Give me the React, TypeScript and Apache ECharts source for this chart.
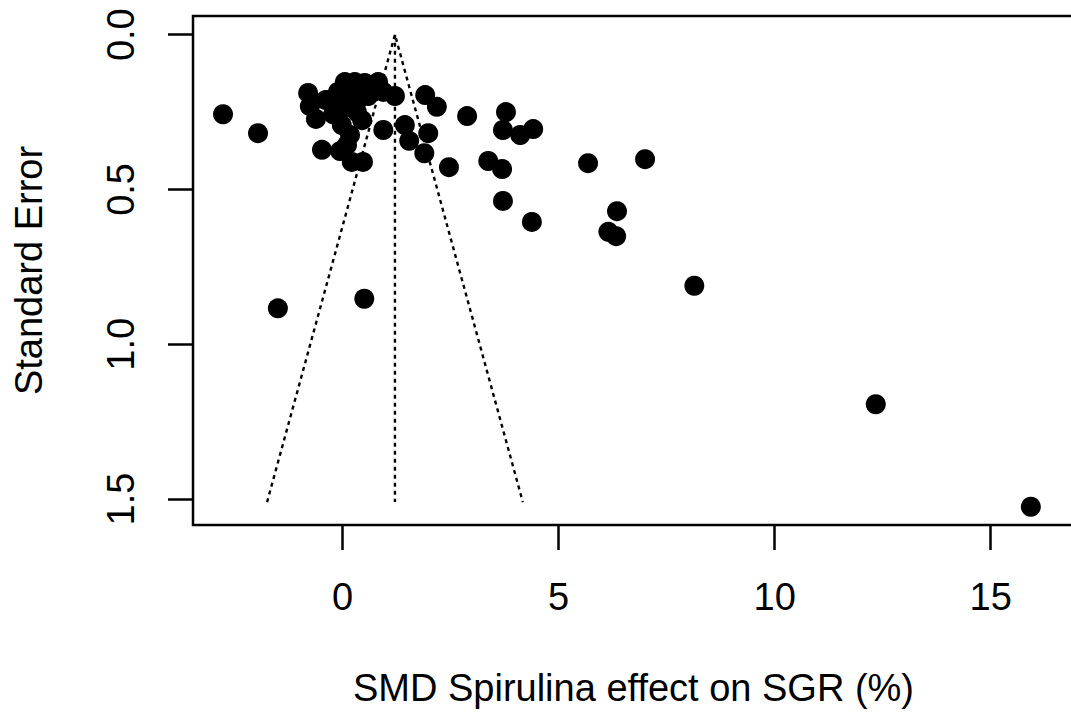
import React, { useEffect, useRef } from "react";
import * as echarts from "echarts";

// Effect sizes (SMD) and their standard errors
const effectSizes = [
  -0.8, -0.76, -0.62, -0.48, -0.39, -0.22, -0.11, -0.02, -0.06, 0.05,
  0.12, 0.17, 0.21, 0.28, 0.33, 0.45, 0.47, 0.51, 0.59, 0.7,
  0.82, 0.94, 1.21, 0.94, -0.2, 0.21, 0.01, 0.35, 0.1,
  1.44, 1.54, 1.89, 1.98, 1.91, 2.18, 2.88, 2.46, 3.37, 3.69,
  3.71, 4.38, 3.78, 3.71, 4.11, 4.41, 5.68, 7.0, 6.35, 6.15,
  6.33, 8.14, 12.34, 15.93, -2.77, -1.96, -1.5, 0.5,
];
const standardErrors = [
  0.188, 0.231, 0.272, 0.372, 0.211, 0.257, 0.185, 0.292, 0.376, 0.153,
  0.221, 0.324, 0.411, 0.153, 0.25, 0.276, 0.411, 0.156, 0.198, 0.172,
  0.153, 0.185, 0.198, 0.308, 0.205, 0.185, 0.237, 0.211, 0.356,
  0.292, 0.343, 0.383, 0.318, 0.195, 0.233, 0.263, 0.428, 0.408, 0.434,
  0.537, 0.605, 0.25, 0.308, 0.324, 0.305, 0.415, 0.402, 0.57, 0.637,
  0.651, 0.811, 1.194, 1.525, 0.257, 0.318, 0.884, 0.853,
];

// Funnel (pseudo-confidence region) and pooled estimate line
const funnelX = [-1.75, 1.21, 4.17];
const funnelY = [1.51, 0, 1.51];
const centerX = [1.21, 1.21];
const centerY = [0, 1.51];

// Tick values
const xTicks = [0, 5, 10, 15];
const yTicks = [0, 0.5, 1.0, 1.5];

const xTitle = "SMD Spirulina effect on SGR (%)";
const yTitle = "Standard Error";

const FONT = "'Liberation Sans', Arial, Helvetica, sans-serif";

export default function App() {
  const ref = useRef<HTMLDivElement>(null);

  useEffect(() => {
    if (!ref.current) return;
    const chart = echarts.init(ref.current, null, { renderer: "svg" });

    const points = effectSizes.map((x, i) => [x, standardErrors[i]]);
    const funnel = funnelX.map((x, i) => [x, funnelY[i]]);
    const center = centerX.map((x, i) => [x, centerY[i]]);

    const lineStyle = { color: "#000", width: 2.4, type: [4, 4] as number[] };
    const textStyle = { color: "#000", fontFamily: FONT, fontSize: 38 };

    chart.setOption({
      animation: false,
      backgroundColor: "#fff",
      grid: {
        left: 193,
        top: 16,
        width: 881,
        height: 509,
        show: true,
        borderColor: "#000",
        borderWidth: 2.5,
        backgroundColor: "transparent",
        outerBoundsMode: "none",
        containLabel: false,
      },
      xAxis: {
        type: "value",
        min: -3.465,
        max: 16.929,
        name: xTitle,
        nameLocation: "middle",
        nameGap: 144,
        nameTextStyle: textStyle,
        axisLine: { show: false, onZero: false },
        splitLine: { show: false },
        axisTick: {
          show: true,
          length: 25,
          customValues: xTicks,
          lineStyle: { color: "#000", width: 2.5 },
        },
        axisLabel: {
          show: true,
          margin: 53,
          customValues: xTicks,
          formatter: (v: number) => String(v),
          ...textStyle,
        },
      },
      yAxis: {
        type: "value",
        inverse: true,
        min: -0.0604,
        max: 1.584,
        name: yTitle,
        nameLocation: "middle",
        nameGap: 145,
        nameRotate: 90,
        nameTextStyle: textStyle,
        axisLine: { show: false, onZero: false },
        splitLine: { show: false },
        axisTick: {
          show: true,
          length: 25,
          customValues: yTicks,
          lineStyle: { color: "#000", width: 2.5 },
        },
        axisLabel: {
          show: true,
          rotate: 90,
          margin: 53,
          customValues: yTicks,
          formatter: (v: number) => v.toFixed(1),
          ...textStyle,
        },
      },
      series: [
        {
          type: "line",
          data: funnel,
          symbol: "none",
          lineStyle,
          z: 1,
          silent: true,
        },
        {
          type: "line",
          data: center,
          symbol: "none",
          lineStyle,
          z: 1,
          silent: true,
        },
        {
          type: "scatter",
          data: points,
          symbol: "circle",
          symbolSize: 20,
          itemStyle: { color: "#000", opacity: 1 },
          z: 3,
          silent: true,
        },
      ],
    });

    return () => chart.dispose();
  }, []);

  return (
    <div
      ref={ref}
      style={{ position: "absolute", left: 0, top: 0, width: 1071, height: 715 }}
    />
  );
}
